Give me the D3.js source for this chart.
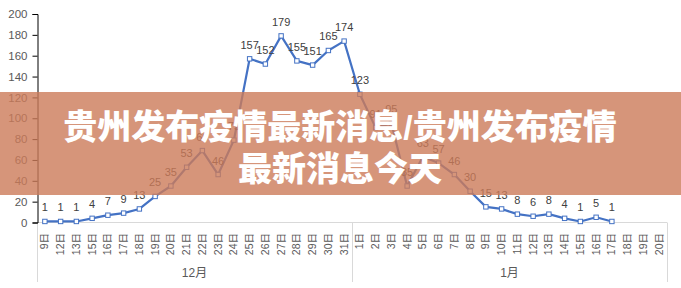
<!DOCTYPE html>
<html lang="zh">
<head>
  <meta charset="UTF-8" />
  <title>贵州发布疫情最新消息</title>
  <script src="https://d3js.org/d3.v7.min.js"></script>
  <style>
    body { margin: 0; background: #fff; }
    svg { display: block; }
    text { font-family: "Liberation Sans", "Noto Sans CJK SC", sans-serif; }
  </style>
</head>
<body>
  <svg id="chart" width="681" height="288"></svg>
  <script>
    // day labels, grouped by month
    const decDays = ["9日", "12日", "13日", "15日", "16日", "17日", "18日", "19日", "20日", "21日",
      "22日", "23日", "24日", "25日", "26日", "27日", "28日", "29日", "30日", "31日"];
    const janDays = ["1日", "2日", "3日", "4日", "5日", "6日", "7日", "8日", "9日", "10日",
      "11日", "12日", "13日", "14日", "15日", "16日", "17日", "18日", "19日", "20日"];
    const months = ["12月", "1月"];

    const decValues = [1, 1, 1, 4, 7, 9, 13, 25, 35, 53, 69, 46, 79, 157, 152, 179, 155, 151, 165, 174];
    const janValues = [123, 91, 95, 35, 63, 57, 46, 30, 15, 13, 8, 6, 8, 4, 1, 5, 1, null, null, null];

    const yTicks = d3.range(0, 201, 20);
    const titleLines = ["贵州发布疫情最新消息/贵州发布疫情", "最新消息今天"];

    const svg = d3.select("#chart");
    const plotL = 37, plotR = 667, plotT = 14, plotB = 222.5;

    const cats = decDays.map((d, i) => ({ key: "d" + i, label: d, value: decValues[i] }))
      .concat(janDays.map((d, i) => ({ key: "j" + i, label: d, value: janValues[i] })));

    const x = d3.scaleBand().domain(cats.map(c => c.key)).range([plotL, plotR]);
    const y = d3.scaleLinear().domain([0, 200]).range([plotB, plotT]);
    const cx = k => x(k) + x.bandwidth() / 2;

    // category axis: baseline + group separators
    svg.append("line")
      .attr("x1", plotL).attr("x2", plotR).attr("y1", plotB).attr("y2", plotB)
      .attr("stroke", "#d9d9d9").attr("stroke-width", 1);
    const sepX = [plotL, x("j0"), plotR];
    svg.selectAll(".sep").data(sepX).enter().append("line")
      .attr("x1", d => Math.round(d) + 0.5).attr("x2", d => Math.round(d) + 0.5)
      .attr("y1", plotB).attr("y2", 282)
      .attr("stroke", "#d9d9d9");

    svg.selectAll(".xlab").data(cats).enter().append("text")
      .attr("transform", d => `translate(${cx(d.key) + 3.5},233) rotate(-90)`)
      .attr("text-anchor", "end")
      .attr("font-size", 10.5)
      .attr("fill", "#595959")
      .text(d => d.label);

    svg.selectAll(".mlab").data(months).enter().append("text")
      .attr("x", (d, i) => (sepX[i] + sepX[i + 1]) / 2)
      .attr("y", 277)
      .attr("text-anchor", "middle")
      .attr("font-size", 12)
      .attr("fill", "#595959")
      .text(d => d);

    // value axis
    const yAxis = svg.append("g")
      .attr("transform", `translate(${plotL + 0.5},0)`)
      .call(d3.axisLeft(y).tickValues(yTicks).tickSize(5).tickPadding(5));
    yAxis.select(".domain").attr("stroke", "#000");
    yAxis.selectAll(".tick line").attr("stroke", "#000");
    yAxis.selectAll(".tick text").attr("fill", "#595959").attr("font-size", 11.5)
      .attr("font-family", "Liberation Sans, sans-serif");

    // series
    const pts = cats.filter(c => c.value != null);
    const line = d3.line().x(d => cx(d.key)).y(d => y(d.value));
    svg.append("path").datum(pts)
      .attr("d", line)
      .attr("fill", "none")
      .attr("stroke", "#4472c4")
      .attr("stroke-width", 2.2)
      .attr("stroke-linejoin", "round");

    svg.selectAll(".pt").data(pts).enter().append("rect")
      .attr("x", d => cx(d.key) - 2.2).attr("y", d => y(d.value) - 2.2)
      .attr("width", 4.4).attr("height", 4.4)
      .attr("fill", "#fff").attr("stroke", "#4472c4").attr("stroke-width", 1);

    svg.selectAll(".vlab").data(pts).enter().append("text")
      .attr("x", d => cx(d.key))
      .attr("y", d => y(d.value) - 10)
      .attr("text-anchor", "middle")
      .attr("font-size", 11)
      .attr("fill", "#404040")
      .text(d => d.value);

    // title banner
    svg.append("rect")
      .attr("x", 0).attr("y", 92).attr("width", 681).attr("height", 103)
      .attr("fill", "rgb(204,122,89)").attr("opacity", 0.8);

    svg.selectAll(".title").data(titleLines).enter().append("text")
      .attr("x", 340)
      .attr("y", (d, i) => 139 + i * 42)
      .attr("text-anchor", "middle")
      .attr("font-family", "Noto Sans CJK SC, sans-serif")
      .attr("font-weight", 900)
      .attr("font-size", 34)
      .attr("fill", "#fff")
      .text(d => d);
  </script>
</body>
</html>
